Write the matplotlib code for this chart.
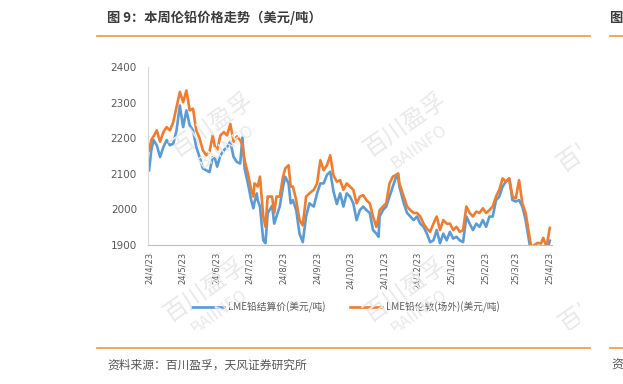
import matplotlib
matplotlib.use("Agg")
import matplotlib.pyplot as plt
import matplotlib.dates as mdates
from matplotlib.transforms import Bbox
import pandas as pd

plt.rcParams["font.family"] = ["Noto Sans CJK SC", "DejaVu Sans"]

# LME lead prices (USD/t)
dates = [
    "2024-04-23", "2024-04-25", "2024-04-27", "2024-04-30", "2024-05-03", "2024-05-06",
    "2024-05-09", "2024-05-12", "2024-05-15", "2024-05-18", "2024-05-21", "2024-05-24",
    "2024-05-27", "2024-05-30", "2024-06-02", "2024-06-05", "2024-06-08", "2024-06-11",
    "2024-06-14", "2024-06-17", "2024-06-20", "2024-06-22", "2024-06-24", "2024-06-27",
    "2024-06-30", "2024-07-03", "2024-07-06", "2024-07-09", "2024-07-12", "2024-07-15",
    "2024-07-17", "2024-07-19", "2024-07-22", "2024-07-25", "2024-07-27", "2024-07-28",
    "2024-07-30", "2024-07-31", "2024-08-02", "2024-08-05", "2024-08-07", "2024-08-09",
    "2024-08-13", "2024-08-15", "2024-08-17", "2024-08-20", "2024-08-23", "2024-08-25",
    "2024-08-28", "2024-08-30", "2024-09-01", "2024-09-04", "2024-09-07", "2024-09-10",
    "2024-09-13", "2024-09-16", "2024-09-20", "2024-09-23", "2024-09-26", "2024-09-29",
    "2024-10-02", "2024-10-05", "2024-10-08", "2024-10-11", "2024-10-14", "2024-10-17",
    "2024-10-20", "2024-10-23", "2024-10-26", "2024-10-29", "2024-11-01", "2024-11-04",
    "2024-11-07", "2024-11-10", "2024-11-13", "2024-11-16", "2024-11-18", "2024-11-19",
    "2024-11-22", "2024-11-25", "2024-11-28", "2024-12-01", "2024-12-04", "2024-12-06",
    "2024-12-07", "2024-12-11", "2024-12-14", "2024-12-17", "2024-12-20", "2024-12-23",
    "2024-12-26", "2024-12-29", "2025-01-01", "2025-01-04", "2025-01-07", "2025-01-10",
    "2025-01-13", "2025-01-16", "2025-01-19", "2025-01-22", "2025-01-25", "2025-01-28",
    "2025-01-31", "2025-02-03", "2025-02-06", "2025-02-09", "2025-02-12", "2025-02-15",
    "2025-02-18", "2025-02-21", "2025-02-24", "2025-02-27", "2025-03-02", "2025-03-05",
    "2025-03-08", "2025-03-11", "2025-03-14", "2025-03-17", "2025-03-20", "2025-03-23",
    "2025-03-26", "2025-03-29", "2025-04-01", "2025-04-05", "2025-04-06", "2025-04-09",
    "2025-04-12", "2025-04-15", "2025-04-17", "2025-04-20", "2025-04-23",
]

settle = [
    2110, 2166, 2195, 2180, 2147, 2175, 2195, 2180, 2185, 2222, 2292, 2231,
    2278, 2236, 2222, 2175, 2147, 2115, 2110, 2105, 2147, 2143, 2120, 2152,
    2166, 2175, 2190, 2147, 2133, 2129, 2202, 2115, 2073, 2026, 2003, 2020,
    2045, 2025, 2008, 1913, 1905, 1990, 2010, 1960, 1980, 2008, 2064, 2092,
    2073, 2017, 2026, 1998, 1932, 1908, 1980, 2017, 2008, 2045, 2073, 2073,
    2097, 2106, 2050, 2015, 2045, 2008, 2045, 2036, 2017, 1970, 1998, 2008,
    1998, 1990, 1942, 1932, 1923, 1980, 1998, 2008, 2036, 2064, 2092, 2087,
    2064, 2017, 1990, 1980, 1970, 1980, 1960, 1951, 1932, 1908, 1913, 1942,
    1905, 1932, 1913, 1937, 1918, 1923, 1913, 1908, 1980, 1960, 1942, 1960,
    1951, 1970, 1951, 1980, 1980, 2026, 2036, 2064, 2078, 2087, 2026, 2022,
    2026, 2008, 1970, 1895, 1870, 1875, 1880, 1885, 1890, 1880, 1912,
]

otc = [
    2166, 2195, 2205, 2222, 2190, 2217, 2231, 2222, 2245, 2287, 2330, 2301,
    2334, 2278, 2283, 2222, 2199, 2166, 2152, 2162, 2208, 2175, 2166, 2208,
    2217, 2208, 2240, 2190, 2205, 2194, 2180, 2138, 2101, 2055, 2036, 2073,
    2068, 2064, 2092, 1980, 1951, 2036, 2036, 1990, 2036, 2036, 2092, 2115,
    2124, 2064, 2064, 2026, 1970, 1955, 2036, 2045, 2055, 2073, 2138, 2110,
    2124, 2152, 2095, 2078, 2082, 2055, 2073, 2064, 2055, 2017, 2036, 2040,
    2026, 2017, 1980, 1951, 1980, 1998, 2008, 2017, 2073, 2092, 2097, 2101,
    2073, 2036, 2008, 1998, 1990, 1990, 1980, 1960, 1946, 1937, 1960, 1980,
    1942, 1970, 1960, 1960, 1942, 1951, 1937, 1942, 2008, 1990, 1980, 1994,
    1990, 2003, 1990, 1998, 2008, 2036, 2055, 2087, 2078, 2087, 2036, 2031,
    2082, 2017, 1990, 1913, 1895, 1900, 1906, 1904, 1920, 1895, 1948,
]

tick_dates = [
    "2024-04-23", "2024-05-23", "2024-06-23", "2024-07-23", "2024-08-23", "2024-09-23",
    "2024-10-23", "2024-11-23", "2024-12-23", "2025-01-23", "2025-02-23", "2025-03-23",
    "2025-04-23",
]
tick_labels = [
    "24/4/23", "24/5/23", "24/6/23", "24/7/23", "24/8/23", "24/9/23", "24/10/23",
    "24/11/23", "24/12/23", "25/1/23", "25/2/23", "25/3/23", "25/4/23",
]
y_ticks = [1900, 2000, 2100, 2200, 2300, 2400]

title = "图 9：本周伦铅价格走势（美元/吨）"
source = "资料来源：百川盈孚，天风证券研究所"
label_settle = "LME铅结算价(美元/吨)"
label_otc = "LME铅伦敦(场外)(美元/吨)"

BLUE = "#5B9BD5"
ORANGE = "#ED7D31"
RULE = "#F0A050"

W, H = 623, 384
fig = plt.figure(figsize=(W / 100, H / 100), dpi=100)

# header / footer
fig.text(107 / W, 1 - 18 / H, title, fontsize=9.5, fontweight="bold",
         color="#3a3a3a", va="center", ha="left")
fig.add_artist(plt.Line2D([97 / W, 590 / W], [1 - 36 / H] * 2, color=RULE, lw=1.3))
fig.add_artist(plt.Line2D([97 / W, 590 / W], [1 - 348 / H] * 2, color=RULE, lw=1.3))
fig.text(107 / W, 1 - 365 / H, source, fontsize=8.5, color="#555555",
         va="center", ha="left")
# neighbouring figure peeking in at the right edge
fig.text(609 / W, 1 - 18 / H, "图", fontsize=9.5, fontweight="bold",
         color="#3a3a3a", va="center", ha="left")
fig.add_artist(plt.Line2D([610 / W, 1.0], [1 - 36 / H] * 2, color=RULE, lw=1.3))
fig.add_artist(plt.Line2D([610 / W, 1.0], [1 - 348 / H] * 2, color=RULE, lw=1.3))
fig.text(611 / W, 1 - 365 / H, "资", fontsize=8.5, color="#555555",
         va="center", ha="left")

# watermark
clip = Bbox.from_extents(100, H - 330, 580, H - 50)
for wx, wy in [(212, 125), (405, 125), (598, 140), (205, 290), (405, 290), (600, 300)]:
    t1 = fig.text(wx / W, 1 - wy / H, "百川盈孚", fontsize=17, color="#e9e9e9",
                  rotation=35, ha="center", va="center", zorder=0)
    t2 = fig.text((wx + 14) / W, 1 - (wy + 22) / H, "BAIINFO", fontsize=12,
                  color="#e9e9e9", rotation=35, ha="center", va="center", zorder=0)
    for t in (t1, t2):
        t.set_clip_box(clip)
        t.set_clip_on(True)

ax = fig.add_axes([148 / W, 1 - 245 / H, (552 - 148) / W, (245 - 67) / H])
ax.patch.set_alpha(0)

x = pd.to_datetime(dates)
ax.plot(x, settle, color=BLUE, lw=1.9, label=label_settle, solid_joinstyle="round")
ax.plot(x, otc, color=ORANGE, lw=1.9, label=label_otc, solid_joinstyle="round")

ax.set_ylim(1900, 2400)
ax.set_xlim(pd.Timestamp("2024-04-22"), pd.Timestamp("2025-04-25"))
ax.set_yticks(y_ticks)
ax.set_yticklabels([str(v) for v in y_ticks], fontsize=7.5, color="#595959",
                   family=["DejaVu Sans"])
ax.set_xticks(pd.to_datetime(tick_dates))
ax.set_xticklabels(tick_labels, rotation=90, fontsize=6, color="#595959",
                   family=["DejaVu Sans"])
ax.tick_params(axis="both", length=0)
ax.tick_params(axis="y", pad=8)
ax.tick_params(axis="x", pad=5)

for side in ["top", "right"]:
    ax.spines[side].set_visible(False)
ax.spines["left"].set_color("#d9d9d9")
ax.spines["bottom"].set_color("#bfbfbf")
ax.spines["left"].set_linewidth(0.8)
ax.spines["bottom"].set_linewidth(0.8)

ax.legend(loc="center", bbox_to_anchor=(0.5 - 0.01, 1 - (307 - 67) / (245 - 67)),
          ncol=2, frameon=False, fontsize=7, handlelength=3.3, columnspacing=2.5,
          labelcolor="#595959", handletextpad=0.4)

fig.savefig("out.png", dpi=100)
